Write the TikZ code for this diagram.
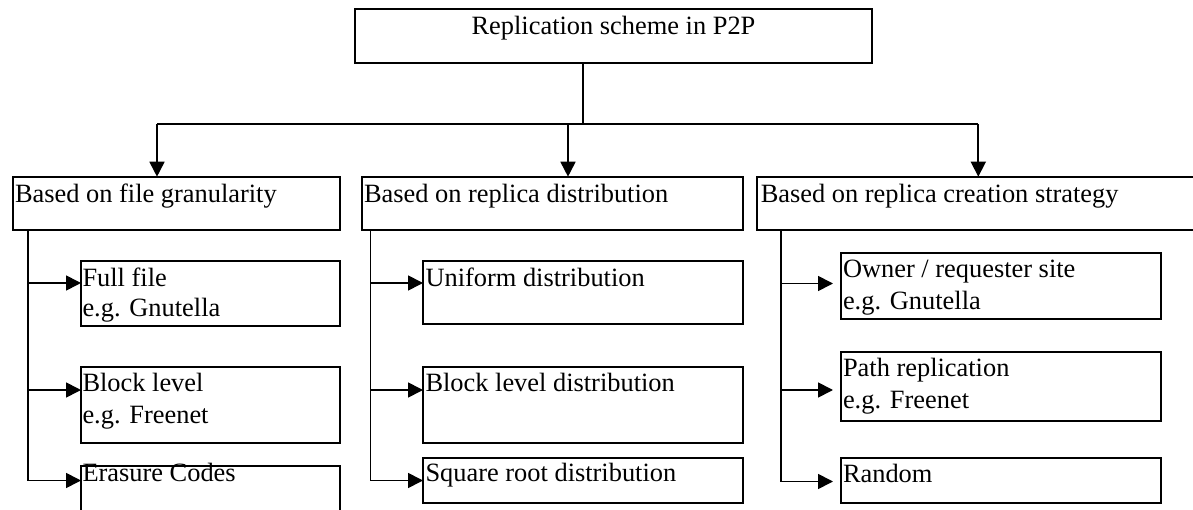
\documentclass[tikz,border=0pt]{standalone}
\usepackage{fontspec}
\setmainfont{Liberation Serif}
\usetikzlibrary{arrows.meta,calc}
\newcommand\mkbox[5]{\node[boxnode, minimum width=#4pt-#2pt, minimum height=#5pt-#3pt] (#1) at (#2,#3) {};}
\begin{document}
\begin{tikzpicture}[x=1pt,y=-1pt,
  boxnode/.style={draw, line width=2pt, inner sep=0pt, outer sep=0pt, anchor=north west},
  txt/.style={inner sep=0pt, outer sep=0pt, anchor=base west, font=\fontsize{26.4}{31}\selectfont},
  link/.style={line width=1.7pt},
  arr/.style={link, -{Triangle[length=15pt,width=15pt]}}]
\useasboundingbox[fill=white] (0,0) rectangle (1193,510);
% boxes
\mkbox{root}{355}{9.5}{872}{63}
\mkbox{b1}{12.7}{176.7}{340}{230}
\mkbox{b2}{362}{176.7}{742.7}{230}
\mkbox{b3}{757.3}{176.7}{1210}{230}
\mkbox{c11}{81}{260.7}{340}{326}
\mkbox{c12}{81}{366.7}{340}{442.7}
\mkbox{c13}{81}{466}{340}{530}
\mkbox{c21}{423}{260.7}{742.7}{324}
\mkbox{c22}{423}{366.7}{742.7}{442.7}
\mkbox{c23}{423}{458.3}{742.7}{503.3}
\mkbox{c31}{841}{252.7}{1161}{319.3}
\mkbox{c32}{841}{351.5}{1161}{420.5}
\mkbox{c33}{841}{457.8}{1161}{503.3}
% texts
\node[txt, anchor=base] (rootT) at ($(root.north)+(0,25.5)$) {Replication scheme in P2P};
\node[txt] (b1T) at ($(b1.north west)+(2.3,26)$) {Based on file granularity};
\node[txt] (b2T) at ($(b2.north west)+(2,26)$) {Based on replica distribution};
\node[txt] (b3T) at ($(b3.north west)+(3.5,26)$) {Based on replica creation strategy};
\node[txt] (c11a) at ($(c11.north west)+(1.5,26)$) {Full file};
\node[txt] (c11b) at ($(c11.north west)+(1.5,56)$) {e.g. Gnutella};
\node[txt] (c12a) at ($(c12.north west)+(1.5,25)$) {Block level};
\node[txt] (c12b) at ($(c12.north west)+(1.5,57)$) {e.g. Freenet};
\node[txt] (c13a) at ($(c13.north west)+(1.5,15.5)$) {Erasure Codes};
\node[txt] (c21a) at ($(c21.north west)+(2.5,26)$) {Uniform distribution};
\node[txt] (c22a) at ($(c22.north west)+(2.5,25)$) {Block level distribution};
\node[txt] (c23a) at ($(c23.north west)+(2.5,23.2)$) {Square root distribution};
\node[txt] (c31a) at ($(c31.north west)+(2,25)$) {Owner / requester site};
\node[txt] (c31b) at ($(c31.north west)+(2,57)$) {e.g. Gnutella};
\node[txt] (c32a) at ($(c32.north west)+(2,24.5)$) {Path replication};
\node[txt] (c32b) at ($(c32.north west)+(2,56.5)$) {e.g. Freenet};
\node[txt] (c33a) at ($(c33.north west)+(2,24.5)$) {Random};
% top connectors
\coordinate (busM) at (583,124);
\coordinate (busL) at (157,124);
\coordinate (busC) at (568,124);
\coordinate (busR) at (978.3,124);
\draw[line width=1.3pt] (root.south -| busM) -- (busM);
\draw[link] (busL) -- (busR);
\draw[arr] (busL) -- (busL |- b1.north);
\draw[arr] (busC) -- (busC |- b2.north);
\draw[arr] (busR) -- (busR |- b3.north);
% column 1
\coordinate (k11) at (28,283);
\coordinate (k12) at (28,390);
\coordinate (k13) at (28,480.5);
\draw[arr] (b1.south -| k13) |- (k13 -| c13.west);
\draw[arr] (k11) -- (k11 -| c11.west);
\draw[arr] (k12) -- (k12 -| c12.west);
% column 2
\coordinate (k21) at (370.5,283);
\coordinate (k22) at (370.5,390);
\coordinate (k23) at (370.5,480.5);
\draw[arr] (b2.south -| k23) |- (k23 -| c23.west);
\draw[arr] (k21) -- (k21 -| c21.west);
\draw[arr] (k22) -- (k22 -| c22.west);
% column 3
\coordinate (k31) at (781,283.5);
\coordinate (k32) at (781,390);
\coordinate (k33) at (781,481.5);
\draw[arr, shorten >=8pt] (b3.south -| k33) |- (k33 -| c33.west);
\draw[arr, shorten >=8pt] (k31) -- (k31 -| c31.west);
\draw[arr, shorten >=8pt] (k32) -- (k32 -| c32.west);
\end{tikzpicture}
\end{document}
